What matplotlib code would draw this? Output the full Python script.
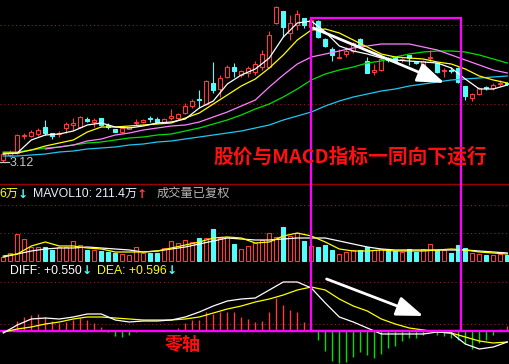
import matplotlib
matplotlib.use('Agg')
import matplotlib.pyplot as plt
from matplotlib.patches import Rectangle, FancyArrowPatch, ArrowStyle
from matplotlib.lines import Line2D
import numpy as np

plt.rcParams['font.family'] = ['Liberation Sans', 'Noto Sans CJK SC', 'DejaVu Sans']

# ---------------- data ----------------
opens = [3.14, 3.19, 3.21, 3.38, 3.38, 3.40, 3.47, 3.41, 3.40, 3.46,
         3.49, 3.47, 3.55, 3.52, 3.56, 3.49, 3.45, 3.42, 3.45, 3.51,
         3.52, 3.56, 3.55, 3.51, 3.56, 3.56, 3.61, 3.68, 3.75, 3.70,
         3.91, 3.85, 3.97, 4.07, 3.99, 4.01, 4.02, 4.07, 4.07, 4.51,
         4.63, 4.41, 4.49, 4.56, 4.47, 4.53, 4.35, 4.25, 4.16, 4.20,
         4.23, 4.35, 4.13, 4.02, 4.04, 4.16, 4.17, 4.14, 4.19, 4.12,
         4.07, 4.16, 4.11, 4.03, 4.04, 4.06, 3.88, 3.76, 3.80, 3.87,
         3.86, 3.90, 3.91]
highs = [3.21, 3.24, 3.40, 3.41, 3.44, 3.46, 3.54, 3.41, 3.43, 3.52,
         3.56, 3.58, 3.57, 3.56, 3.56, 3.51, 3.45, 3.47, 3.47, 3.55,
         3.55, 3.58, 3.57, 3.56, 3.65, 3.61, 3.71, 3.75, 3.84, 3.94,
         4.12, 3.99, 4.09, 4.11, 4.04, 4.08, 4.13, 4.24, 4.43, 4.68,
         4.63, 4.59, 4.64, 4.56, 4.55, 4.54, 4.36, 4.27, 4.25, 4.27,
         4.32, 4.36, 4.17, 4.10, 4.17, 4.17, 4.17, 4.17, 4.19, 4.13,
         4.14, 4.24, 4.12, 4.06, 4.07, 4.07, 3.88, 3.81, 3.87, 3.88,
         3.91, 3.94, 3.92]
lows = [3.12, 3.17, 3.20, 3.35, 3.37, 3.38, 3.39, 3.35, 3.37, 3.41,
        3.44, 3.46, 3.52, 3.47, 3.48, 3.45, 3.42, 3.41, 3.45, 3.49,
        3.51, 3.52, 3.51, 3.51, 3.54, 3.54, 3.60, 3.66, 3.66, 3.69,
        3.81, 3.77, 3.96, 3.97, 3.97, 3.97, 3.99, 4.04, 4.06, 4.50,
        4.37, 4.34, 4.44, 4.46, 4.46, 4.36, 4.27, 4.13, 4.16, 4.17,
        4.21, 4.28, 4.01, 3.99, 4.03, 4.12, 4.12, 4.12, 4.09, 4.10,
        4.06, 4.12, 4.01, 3.97, 4.01, 3.91, 3.74, 3.73, 3.79, 3.84,
        3.84, 3.88, 3.89]
closes = [3.20, 3.22, 3.39, 3.39, 3.42, 3.44, 3.41, 3.38, 3.41, 3.50,
          3.51, 3.57, 3.53, 3.54, 3.49, 3.47, 3.42, 3.46, 3.47, 3.52,
          3.54, 3.55, 3.52, 3.55, 3.58, 3.60, 3.68, 3.73, 3.74, 3.93,
          3.84, 3.96, 4.07, 4.03, 4.03, 4.06, 4.10, 4.20, 4.39, 4.67,
          4.47, 4.51, 4.60, 4.49, 4.54, 4.37, 4.28, 4.19, 4.17, 4.23,
          4.31, 4.29, 4.01, 4.04, 4.15, 4.14, 4.13, 4.15, 4.16, 4.11,
          4.13, 4.17, 4.02, 4.04, 4.03, 3.92, 3.78, 3.80, 3.86, 3.86,
          3.89, 3.91, 3.90]

# moving averages read at every second bar (bars 0,2,4,...,72)
ma5 = [3.20, 3.21, 3.34, 3.39, 3.40, 3.43, 3.49, 3.51, 3.47, 3.46,
       3.48, 3.51, 3.52, 3.55, 3.66, 3.73, 3.90, 3.99, 4.05, 4.16,
       4.37, 4.51, 4.53, 4.42, 4.28, 4.23, 4.20, 4.16, 4.14, 4.13,
       4.12, 4.11, 4.06, 3.95, 3.85, 3.85, 3.89]
ma10 = [3.21, 3.21, 3.24, 3.28, 3.31, 3.34, 3.42, 3.47, 3.47, 3.48,
        3.49, 3.50, 3.51, 3.56, 3.61, 3.70, 3.79, 3.88, 3.95, 4.06,
        4.19, 4.34, 4.44, 4.45, 4.41, 4.34, 4.27, 4.20, 4.17, 4.16,
        4.15, 4.12, 4.10, 4.05, 3.98, 3.94, 3.91]
ma20 = [3.25, 3.27, 3.29, 3.33, 3.35, 3.39, 3.41, 3.44, 3.46, 3.48,
        3.49, 3.52, 3.57, 3.62, 3.68, 3.74, 3.87, 3.99, 4.10, 4.17,
        4.20, 4.23, 4.26, 4.28, 4.30, 4.30, 4.30, 4.27, 4.24, 4.19,
        4.14, 4.09, 4.04, 4.01]          # bars 6,8,...,72
ma30 = [3.22, 3.22, 3.24, 3.26, 3.27, 3.29, 3.31, 3.32, 3.34, 3.36,
        3.37, 3.39, 3.40, 3.43, 3.46, 3.50, 3.54, 3.59, 3.65, 3.70,
        3.77, 3.85, 3.94, 4.00, 4.04, 4.07, 4.11, 4.13, 4.17, 4.20,
        4.22, 4.23, 4.23, 4.22, 4.19, 4.15, 4.11]
ma60 = [3.18, 3.18, 3.19, 3.20, 3.22, 3.23, 3.25, 3.26, 3.27, 3.29,
        3.30, 3.32, 3.33, 3.35, 3.37, 3.39, 3.41, 3.43, 3.46, 3.49,
        3.54, 3.58, 3.62, 3.68, 3.73, 3.77, 3.80, 3.83, 3.85, 3.88,
        3.90, 3.92, 3.94, 3.95, 3.96, 3.97, 3.98]

volumes = [100, 200, 675, 550, 350, 350, 350, 275, 350, 350,
           500, 400, 275, 275, 250, 225, 200, 175, 150, 350,
           200, 200, 200, 325, 500, 450, 525, 475, 575, 575,
           800, 575, 600, 425, 300, 375, 450, 525, 700, 600,
           850, 625, 700, 500, 375, 350, 400, 275, 175, 225,
           275, 275, 350, 275, 300, 250, 250, 225, 300, 225,
           300, 425, 275, 275, 200, 400, 325, 200, 175, 150,
           150, 175, 150]   # 万
mavol5 = [125, 175, 375, 475, 375, 375, 325, 300, 225, 225,
          225, 250, 325, 400, 475, 575, 600, 575, 450, 475,
          625, 700, 625, 475, 300, 250, 250, 275, 250, 250,
          250, 275, 300, 275, 225, 200, 175]
mavol10 = [100, 175, 250, 300, 325, 325, 350, 325, 300, 275,
           225, 250, 300, 350, 425, 500, 575, 550, 525, 525,
           550, 575, 575, 575, 500, 425, 350, 300, 275, 275,
           275, 275, 275, 275, 250, 225, 200]

macd_hist = [0.00, 0.00, 0.10, 0.14, 0.16, 0.17, 0.14, 0.10, 0.08, 0.09,
             0.11, 0.13, 0.11, 0.08, 0.04, -0.01, -0.05, -0.06, -0.04, -0.01,
             0.00, 0.00, 0.00, 0.00, 0.00, 0.03, 0.08, 0.11, 0.11, 0.19,
             0.17, 0.19, 0.19, 0.19, 0.14, 0.12, 0.09, 0.10, 0.19, 0.33,
             0.26, 0.21, 0.19, 0.09, 0.00, -0.09, -0.20, -0.30, -0.32, -0.31,
             -0.26, -0.21, -0.24, -0.27, -0.23, -0.17, -0.15, -0.10, -0.07, -0.07,
             -0.04, 0.00, -0.04, -0.05, -0.07, -0.09, -0.13, -0.18, -0.12, -0.09,
             -0.04, 0.02, 0.05]
diff = [-0.02, 0.06, 0.12, 0.13, 0.12, 0.14, 0.17, 0.17, 0.11, 0.09,
        0.10, 0.10, 0.11, 0.14, 0.19, 0.25, 0.30, 0.32, 0.33, 0.41,
        0.49, 0.49, 0.43, 0.28, 0.14, 0.09, 0.03, -0.03, -0.03, -0.03,
        -0.03, -0.01, -0.02, -0.13, -0.18, -0.16, -0.11]
dea = [-0.01, 0.02, 0.04, 0.07, 0.09, 0.12, 0.14, 0.14, 0.13, 0.12,
       0.11, 0.11, 0.11, 0.12, 0.14, 0.18, 0.22, 0.25, 0.29, 0.32,
       0.36, 0.41, 0.44, 0.41, 0.32, 0.25, 0.20, 0.12, 0.07, 0.03,
       0.01, -0.01, -0.02, -0.06, -0.10, -0.12, -0.11]

vol_header_left = "6万"
mavol10_label = "MAVOL10: 211.4万"
vol_note = "成交量已复权"
diff_label = "DIFF: +0.550"
dea_label = "DEA: +0.596"
title_text = "股价与MACD指标一同向下运行"
zero_text = "零轴"

# ---------------- figure ----------------
W, H = 509, 364
fig = plt.figure(figsize=(W / 100, H / 100), dpi=100, facecolor='black')

def px_axes(top, bottom):
    ax = fig.add_axes([0, 1 - bottom / H, 1, (bottom - top) / H])
    ax.set_facecolor('none')
    ax.axis('off')
    ax.set_xlim(-3.3 / 7, -3.3 / 7 + W / 7)
    return ax

ax_p = px_axes(0, 181)
ax_v = px_axes(184, 262)
ax_m = px_axes(262, 364)
ax_p.set_ylim(2.93, 4.74)
ax_v.set_ylim(-25, 1925)
ax_m.set_ylim(-0.33, 0.69)

def fpos(x, y):
    return (x / W, 1 - y / H)

UP = '#ff3a3a'
DN = '#54fcfc'
GRID = '#a01818'
o = np.array(opens); h = np.array(highs); l = np.array(lows); c = np.array(closes)
idx = np.arange(len(c))
up = c >= o
cols = [UP if u else DN for u in up]
faces = ['black' if u else DN for u in up]

# grid dotted lines
for ax, ys in ((ax_p, (4.49, 3.70)), (ax_v, (1400, 700)), (ax_m, (0.49, 0.07))):
    for yv in ys:
        ax.axhline(yv, color=GRID, lw=0.8, ls=(0, (1, 2.5)), zorder=0)

# candles
ax_p.vlines(idx, l, h, colors=cols, lw=0.8, zorder=2)
body_b = np.minimum(o, c)
body_h = np.maximum(np.abs(c - o), 0.004)
ax_p.bar(idx, body_h, bottom=body_b, width=0.62, color=faces,
         edgecolor=cols, lw=0.8, zorder=3)

even = np.arange(0, len(c), 2)
ax_p.plot(even, ma60, color='#1ec8f0', lw=0.9, zorder=4)
ax_p.plot(even, ma30, color='#00e000', lw=0.9, zorder=4)
ax_p.plot(np.arange(6, len(c), 2), ma20, color='#ff80ff', lw=0.9, zorder=4)
ax_p.plot(even, ma10, color='#ffff00', lw=0.9, zorder=4)
ax_p.plot(even, ma5, color='#ffffff', lw=0.9, zorder=4)

imin = int(np.argmin(l))
ax_p.plot([imin - 0.47, imin + 0.85], [l[imin], l[imin]], color='#c8c8c8', lw=0.9, zorder=5)
ax_p.text(imin + 0.95, l[imin] - 0.01, f"{l[imin]:.2f}", color='#c8c8c8',
          fontsize=9, va='center', ha='left', zorder=5)

# volume
vols = np.array(volumes)
ax_v.bar(idx, vols, width=0.62, color=faces, edgecolor=cols, lw=0.8, zorder=2)
ax_v.plot(even, mavol10, color='#ffffff', lw=0.9, zorder=3)
ax_v.plot(even, mavol5, color='#ffff00', lw=0.9, zorder=3)

# macd
mh = np.array(macd_hist)
ax_m.vlines(idx, 0, mh, colors=[UP if v > 0 else '#00e000' for v in mh], lw=1.0, zorder=2)
ax_m.axhline(0, color='#ff00ff', lw=1.7, zorder=3)
ax_m.plot(even, dea, color='#ffff00', lw=0.9, zorder=4)
ax_m.plot(even, diff, color='#ffffff', lw=0.9, zorder=4)

# separator
fig.add_artist(Line2D([0, 1], [fpos(0, 184)[1]] * 2, color='#9a0000', lw=1.0,
                      transform=fig.transFigure))

# magenta box
x0, y0 = fpos(311, 331)
fig.add_artist(Rectangle((x0, y0), 150 / W, 313 / H, transform=fig.transFigure,
                         fill=False, edgecolor='#ff00ff', lw=1.6, zorder=10))

# arrows
st = ArrowStyle('-|>', head_length=1.1, head_width=0.4)
for (xa, ya), (xb, yb) in (((311, 27), (447, 84)), ((324, 278), (426, 317))):
    fig.add_artist(FancyArrowPatch(fpos(xa, ya), fpos(xb, yb), transform=fig.transFigure,
                                   arrowstyle=st, mutation_scale=15, color='white',
                                   lw=2.0, zorder=11))

# texts
fig.text(*fpos(213, 157), title_text, color='#ff1010', fontsize=14.2, weight='bold',
         family=['Noto Sans CJK SC'], va='center', ha='left', zorder=12)
fig.text(*fpos(165, 345), zero_text, color='#ff1010', fontsize=13, weight='bold',
         family=['Noto Sans CJK SC'], va='center', ha='left', zorder=12)

fs = 8.8
fig.text(*fpos(-1, 194), vol_header_left, color='#ffff00', fontsize=fs, va='center')
fig.text(*fpos(18, 194), "↓", color=DN, fontsize=fs, va='center', weight='bold',
         family=['DejaVu Sans'])
fig.text(*fpos(33, 194), mavol10_label, color='#e6eeff', fontsize=fs, va='center')
fig.text(*fpos(137, 194), "↑", color=UP, fontsize=fs, va='center', weight='bold',
         family=['DejaVu Sans'])
fig.text(*fpos(157, 194), vol_note, color='#b4b4b4', fontsize=fs, va='center')

fig.text(*fpos(10, 271), diff_label, color='#ffffff', fontsize=fs, va='center')
fig.text(*fpos(82, 271), "↓", color=DN, fontsize=fs, va='center', weight='bold',
         family=['DejaVu Sans'])
fig.text(*fpos(97, 271), dea_label, color='#ffff00', fontsize=fs, va='center')
fig.text(*fpos(167, 271), "↓", color=DN, fontsize=fs, va='center', weight='bold',
         family=['DejaVu Sans'])

fig.savefig('out.png', dpi=100, facecolor='black')
